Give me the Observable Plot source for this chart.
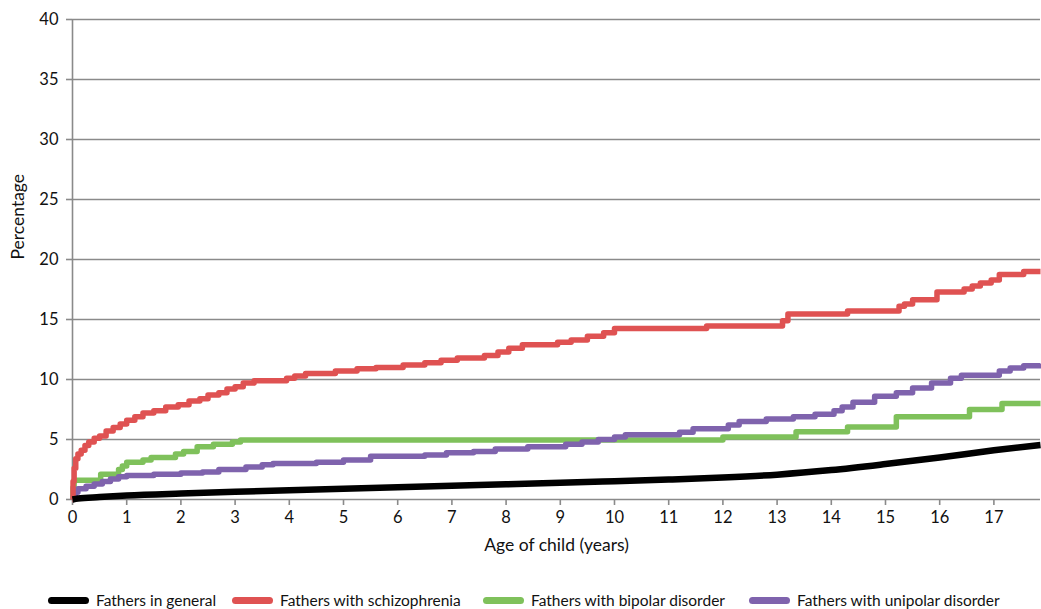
<!DOCTYPE html>
<html><head><meta charset="utf-8">
<script src="https://cdn.jsdelivr.net/npm/d3@7"></script>
<script src="https://cdn.jsdelivr.net/npm/@observablehq/plot@0.6"></script>
<style>
body{margin:0;background:#fff;font-family:Lato,"Open Sans",sans-serif;}
#wrap{position:relative;width:1041px;height:609px;}
.leg{position:absolute;top:589px;height:22px;display:flex;align-items:center;font-size:15.5px;color:#111;white-space:nowrap;}
.sw{display:inline-block;width:41px;height:7px;border-radius:4px;margin-right:7px;}
</style></head><body>
<div id="wrap"><div id="chart"></div><div id="legend"></div></div>
<script>
const seriesNames = ["Fathers in general","Fathers with schizophrenia","Fathers with bipolar disorder","Fathers with unipolar disorder"];
const seriesColors = ["#000000","#df5252","#7fc15b","#7f63ad"];
const xTicks = d3.range(0, 18);
const yTicks = [0,5,10,15,20,25,30,35,40];

// [age of child (years), percentage]
const general = [[0,0],[0.1,0.08],[0.5,0.2],[1,0.33],[2,0.5],[3,0.64],[4,0.77],[5,0.9],[6,1.02],[7,1.14],[8,1.27],[9,1.39],[10,1.52],[11,1.66],[12,1.83],[13,2.07],[14,2.45],[15,2.95],[16,3.5],[17,4.1],[17.86,4.55]];
const schizophrenia = [[0,0],[0.01,1.5],[0.03,2.6],[0.06,3.4],[0.1,3.8],[0.16,4.1],[0.23,4.5],[0.3,4.8],[0.4,5.1],[0.5,5.3],[0.62,5.7],[0.75,6.0],[0.88,6.3],[1.0,6.6],[1.15,6.9],[1.3,7.2],[1.5,7.4],[1.72,7.7],[1.95,7.9],[2.15,8.2],[2.35,8.4],[2.5,8.7],[2.7,8.9],[2.85,9.2],[3.0,9.4],[3.15,9.7],[3.35,9.9],[3.95,10.1],[4.1,10.3],[4.3,10.5],[4.85,10.7],[5.25,10.9],[5.6,11.0],[6.1,11.2],[6.5,11.4],[6.8,11.6],[7.1,11.8],[7.6,12.0],[7.85,12.3],[8.05,12.6],[8.3,12.9],[8.95,13.1],[9.2,13.3],[9.5,13.6],[9.8,13.9],[10.0,14.25],[11.7,14.45],[13.1,14.9],[13.2,15.45],[14.3,15.7],[15.25,16.1],[15.35,16.3],[15.5,16.65],[15.95,17.3],[16.45,17.55],[16.6,17.8],[16.75,18.05],[16.95,18.3],[17.1,18.75],[17.55,19.0],[17.86,19.0]];
const bipolar = [[0,0],[0.01,1.0],[0.03,1.6],[0.52,2.1],[0.85,2.5],[0.92,2.8],[1.0,3.1],[1.3,3.3],[1.45,3.5],[1.9,3.8],[2.05,4.0],[2.3,4.4],[2.6,4.6],[2.95,4.8],[3.1,4.95],[12.0,5.2],[13.35,5.65],[14.3,6.05],[15.2,6.9],[16.55,7.5],[17.15,8.0],[17.86,8.0]];
const unipolar = [[0,0],[0.02,0.3],[0.05,0.6],[0.1,0.9],[0.25,1.1],[0.4,1.3],[0.55,1.5],[0.7,1.7],[0.85,1.9],[1.0,2.0],[1.5,2.1],[2.0,2.2],[2.4,2.3],[2.7,2.5],[3.2,2.7],[3.5,2.9],[3.7,3.0],[4.5,3.1],[5.0,3.3],[5.5,3.6],[6.5,3.7],[6.9,3.9],[7.4,4.0],[7.8,4.2],[8.4,4.4],[9.1,4.6],[9.4,4.8],[9.7,5.0],[10.0,5.2],[10.2,5.4],[11.2,5.6],[11.45,5.9],[12.1,6.2],[12.3,6.5],[12.8,6.7],[13.3,6.9],[13.7,7.1],[14.05,7.4],[14.2,7.7],[14.4,8.1],[14.8,8.6],[15.2,8.9],[15.5,9.3],[15.85,9.7],[16.2,10.1],[16.4,10.35],[17.1,10.7],[17.3,10.95],[17.55,11.15],[17.86,11.3]];

const allSeries = [general, schizophrenia, bipolar, unipolar];
const curves = ["monotone-x","step-after","step-after","step-after"];
const gridColor = "#8a8a8a";
const svgH = 585, plotTop = 19, plotBottom = 499;

const lineMarks = [2,3,1,0].map(i => Plot.line(allSeries[i], {x: d => d[0], y: d => d[1], stroke: seriesColors[i], strokeWidth: i === 0 ? 6.5 : 5.5, curve: curves[i], strokeLinejoin: "round", strokeLinecap: "butt"}));

const chart = Plot.plot({
  width: 1041, height: svgH,
  marginLeft: 72, marginRight: 1, marginTop: plotTop, marginBottom: svgH - plotBottom,
  style: {fontFamily: "Lato, 'Open Sans', sans-serif", fontSize: "16.5px", color: "#111", background: "#fff", overflow: "visible"},
  x: {domain: [0, 17.86]},
  y: {domain: [0, 40]},
  marks: [
    Plot.ruleY(yTicks, {stroke: gridColor, strokeWidth: 1.6}),
    Plot.ruleX([0], {stroke: gridColor, strokeWidth: 1.6}),
    Plot.axisY(yTicks, {tickSize: 6, tickPadding: 8, stroke: gridColor, strokeWidth: 1.6, label: null, fill: "#111", fontSize: 16.5}),
    Plot.axisX(xTicks, {tickSize: 6, tickPadding: 6, stroke: gridColor, strokeWidth: 1.6, label: null, fill: "#111", fontSize: 16.5}),
    Plot.text(["Age of child (years)"], {frameAnchor: "bottom", dy: 51, fontSize: 17.5, fill: "#111"}),
    Plot.text(["Percentage"], {frameAnchor: "left", dx: -54, rotate: -90, fontSize: 17.5, fill: "#111"}),
    ...lineMarks
  ]
});
document.getElementById("chart").appendChild(chart);

const legLefts = [48, 232, 483, 749];
const legend = document.getElementById("legend");
seriesNames.forEach((n, i) => {
  const d = document.createElement("div");
  d.className = "leg";
  d.style.left = legLefts[i] + "px";
  d.innerHTML = `<span class="sw" style="background:${seriesColors[i]}"></span><span>${n}</span>`;
  legend.appendChild(d);
});
</script>
</body></html>
